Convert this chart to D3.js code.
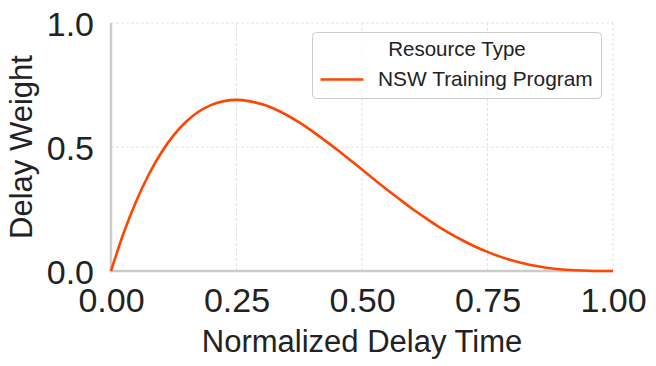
<!DOCTYPE html>
<html><head><meta charset="utf-8">
<script src="https://cdn.jsdelivr.net/npm/d3@7"></script>
<style>
html,body{margin:0;padding:0;background:#fff;}
svg{display:block;font-family:"Liberation Sans",Arial,sans-serif;}
</style></head>
<body><svg id="c" width="656" height="366"></svg>
<script>
const xValues = [0,0.025,0.05,0.075,0.1,0.125,0.15,0.175,0.2,0.225,0.25,0.275,0.3,0.325,0.35,0.375,0.4,0.425,0.45,0.475,0.5,0.525,0.55,0.575,0.6,0.625,0.65,0.675,0.7,0.725,0.75,0.775,0.8,0.825,0.85,0.875,0.9,0.925,0.95,0.975,1.0];
const yValues = [0,0.152,0.280,0.388,0.477,0.548,0.603,0.643,0.670,0.685,0.690,0.685,0.673,0.654,0.629,0.599,0.565,0.528,0.490,0.450,0.409,0.368,0.328,0.289,0.251,0.216,0.182,0.152,0.124,0.099,0.077,0.058,0.042,0.029,0.019,0.011,0.006,0.003,0.001,0.0001,0];
const xTicks = [0,0.25,0.5,0.75,1.0];
const yTicks = [0,0.5,1.0];
const seriesName = "NSW Training Program";
const legendTitle = "Resource Type";

const svg = d3.select("#c");
const x = d3.scaleLinear().domain([0,1]).range([111,613]);
const y = d3.scaleLinear().domain([0,1]).range([271,23]);
const ink = "#222222";
const ff = "Liberation Sans, Arial, sans-serif";

// grid
const g = svg.append("g");
g.selectAll(".vg").data(xTicks).join("line")
  .attr("x1",d=>x(d)).attr("x2",d=>x(d)).attr("y1",y(0)).attr("y2",y(1))
  .attr("stroke","#dcdcdc").attr("stroke-width",0.8).attr("stroke-dasharray","3,2");
g.selectAll(".hg").data(yTicks).join("line")
  .attr("x1",x(0)).attr("x2",x(1)).attr("y1",d=>y(d)).attr("y2",d=>y(d))
  .attr("stroke","#dcdcdc").attr("stroke-width",0.8).attr("stroke-dasharray","3,2");

// axes
const xa = svg.append("g").attr("transform",`translate(0,${y(0)})`)
  .call(d3.axisBottom(x).tickValues(xTicks).tickFormat(d3.format(".2f")).tickSize(0).tickPadding(17));
const ya = svg.append("g").attr("transform",`translate(${x(0)},0)`)
  .call(d3.axisLeft(y).tickValues(yTicks).tickFormat(d3.format(".1f")).tickSize(0).tickPadding(17));
[xa,ya].forEach(a=>{
  a.select(".domain").attr("stroke","#cccccc").attr("stroke-width",2.5);
  a.selectAll("text").attr("fill",ink).attr("font-size",34).attr("font-family",ff);
});
ya.select(".domain").attr("d",`M0,${y(0)+1.25}V${y(1)}`);
xa.select(".domain").attr("d",`M${x(0)-1.25},0H${x(1)}`);
ya.selectAll("text").attr("dy","0.36em");

// line
const line = d3.line().x((d,i)=>x(xValues[i])).y(d=>y(d)).curve(d3.curveMonotoneX);
svg.append("path").attr("d",line(yValues)).attr("fill","none")
  .attr("stroke","#ff4500").attr("stroke-width",2.6);

// axis labels
svg.append("text").attr("x",(x(0)+x(1))/2).attr("y",352).attr("text-anchor","middle")
  .attr("font-size",31).attr("fill",ink).text("Normalized Delay Time");
svg.append("text").attr("transform",`translate(32,${(y(0)+y(1))/2}) rotate(-90)`)
  .attr("text-anchor","middle").attr("font-size",31).attr("fill",ink).text("Delay Weight");

// legend
const lg = svg.append("g");
lg.append("rect").attr("x",312.5).attr("y",32.5).attr("width",289).attr("height",66).attr("rx",4)
  .attr("fill","#fff").attr("fill-opacity",0.8).attr("stroke","#cccccc").attr("stroke-width",1);
lg.append("text").attr("x",457).attr("y",56).attr("text-anchor","middle")
  .attr("font-size",20.5).attr("fill",ink).text(legendTitle);
lg.append("line").attr("x1",320.5).attr("x2",363.5).attr("y1",79.5).attr("y2",79.5)
  .attr("stroke","#ff4500").attr("stroke-width",2.6);
lg.append("text").attr("x",378).attr("y",86).attr("font-size",20.9).attr("fill",ink).text(seriesName);
</script></body></html>
